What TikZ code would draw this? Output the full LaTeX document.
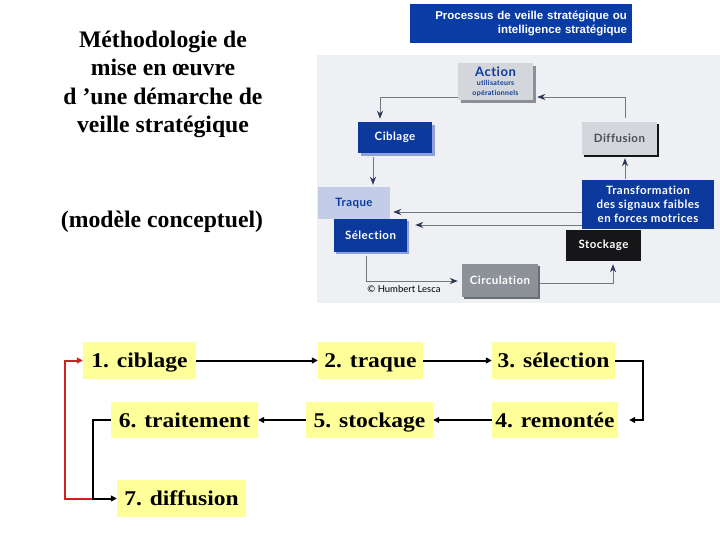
\documentclass[tikz,border=0pt]{standalone}
\usepackage{fontspec}
\setmainfont{Liberation Serif}
\newfontfamily\bottomfont[FakeStretch=1.12]{Liberation Serif}
\newfontfamily\picfont[LetterSpace=4,Ligatures=NoCommon]{Lato}
\newfontfamily\copyfont{Lato}
\newfontfamily\arialfont{Liberation Sans}
\usetikzlibrary{arrows.meta,calc}
\pgfdeclarelayer{panel}
\pgfdeclarelayer{shadow}
\pgfsetlayers{panel,shadow,main}
\definecolor{yellowbox}{RGB}{255,255,153}
\definecolor{picblue}{RGB}{12,58,156}
\definecolor{titleblue}{RGB}{10,60,165}
\definecolor{lightshadow}{RGB}{142,162,216}
\definecolor{traqueblue}{RGB}{195,205,232}
\definecolor{boxgray}{RGB}{211,214,218}
\definecolor{actshadow}{RGB}{140,144,150}
\definecolor{circgray}{RGB}{141,146,152}
\definecolor{circshadow}{RGB}{105,110,116}
\definecolor{panelbg}{RGB}{238,240,243}
\definecolor{linegray}{RGB}{115,120,128}
\definecolor{arrowdark}{RGB}{44,54,88}
\definecolor{difftext}{RGB}{74,77,85}
\definecolor{stockblack}{RGB}{22,22,24}
\definecolor{redline}{RGB}{204,34,34}
\begin{document}
\begin{tikzpicture}[x=1pt,y=-1pt,
  ybox/.style={fill=yellowbox, inner sep=0pt, text height=17pt, text depth=3pt,
    font=\bottomfont\bfseries\fontsize{21}{24}\selectfont, minimum height=37pt},
  barrow/.style={line width=2pt, -{Triangle[length=6pt,width=6pt]}},
  rarrow/.style={barrow, draw=redline, color=redline},
  pbox/.style={inner sep=0pt, font=\picfont\bfseries\fontsize{11.5}{14}\selectfont, align=center},
  pline/.style={draw=linegray, line width=0.9pt},
  parrow/.style={pline, -{Stealth[length=8pt,width=6pt,inset=2.5pt,color=arrowdark]}}
]
\useasboundingbox (0,0) rectangle (720,540);
\begin{pgfonlayer}{panel}
\fill[white] (0,0) rectangle (720,540);
\fill[panelbg] (317,55) rectangle (720,303);
\end{pgfonlayer}

% left title
\node[align=center, font=\bfseries\fontsize{23.7}{28.5}\selectfont, inner sep=0, anchor=north]
  (title) at (163,30.8) {Méthodologie de\\mise en œuvre\\d ’une démarche de\\veille stratégique};
\node[font=\bfseries\fontsize{23.7}{28}\selectfont, inner sep=0, anchor=base]
  (subtitle) at (162,228) {(modèle conceptuel)};

% top-right picture
\node[fill=titleblue, text=white, text width=212pt, align=right, minimum height=39pt,
  inner xsep=5pt, inner ysep=0pt, font=\arialfont\bfseries\fontsize{11.5}{14}\selectfont]
  (tb) at (521,23.5) {Processus de veille stratégique ou\\intelligence stratégique};

\node[pbox, font=\picfont\bfseries\fontsize{7}{9.5}\selectfont, fill=boxgray, text=picblue,
  minimum width=75pt, minimum height=37pt]
  (Action) at (495.5,81.5) {{\fontsize{13}{9.5}\selectfont Action}\\utilisateurs\\opérationnels};
\node[pbox, fill=picblue, text=white, minimum width=74pt, minimum height=31pt]
  (Ciblage) at (395,137.5) {Ciblage};
\node[pbox, fill=boxgray, text=difftext, minimum width=75pt, minimum height=33pt]
  (Diffusion) at (619.5,138.5) {Diffusion};
\node[pbox, fill=traqueblue, text=picblue, minimum width=72pt, minimum height=32pt]
  (Traque) at (354,203) {Traque};
\node[pbox, fill=picblue, text=white, minimum width=73pt, minimum height=33pt]
  (Selection) at (370.5,235.5) {Sélection};
\node[pbox, fill=stockblack, text=white, minimum width=75pt, minimum height=31pt]
  (Stockage) at (603.5,245.5) {Stockage};
\node[pbox, fill=picblue, text=white, minimum width=132pt, minimum height=49pt]
  (Transformation) at (648,204.5) {Transformation\\des signaux faibles\\en forces motrices};
\node[pbox, fill=circgray, text=white, minimum width=76pt, minimum height=33pt]
  (Circulation) at (500,280.5) {Circulation};
\node[font=\copyfont\fontsize{9.5}{11}\selectfont, inner sep=0] (copy) at (404,289) {© Humbert Lesca};

\begin{pgfonlayer}{shadow}
\fill[actshadow] ($(Action.north west)+(3,3)$) rectangle ($(Action.south east)+(3,3)$);
\fill[lightshadow] ($(Ciblage.north west)+(3,3)$) rectangle ($(Ciblage.south east)+(3,3)$);
\fill[stockblack] ($(Diffusion.north west)+(2,2)$) rectangle ($(Diffusion.south east)+(2,2)$);
\fill[lightshadow] ($(Selection.north west)+(2,2)$) rectangle ($(Selection.south east)+(2,2)$);
\fill[circshadow] ($(Circulation.north west)+(2,2)$) rectangle ($(Circulation.south east)+(2,2)$);
\end{pgfonlayer}

\draw[parrow] ($(Action.west)+(0,15.5)$) -| ($(Ciblage.north)+(-15,-3)$);
\draw[parrow] ($(Diffusion.north)+(5.5,-4)$) |- ($(Action.east)+(4,15.5)$);
\draw[parrow] ($(Ciblage.south)+(-22,4)$) -- ($(Traque.north)+(19,-2)$);
\draw[parrow] ($(Transformation.west)+(0,7.5)$) -- ($(Traque.east)+(3,9)$);
\draw[parrow] ($(Transformation.west)+(0,20.5)$) -- ($(Selection.east)+(8,-10.5)$);
\draw[parrow] ($(Selection.south)+(-4.5,4)$) |- ($(Circulation.west)+(-4,0.5)$);
\draw[parrow] ($(Circulation.east)+(2,2.5)$) -| ($(Stockage.south)+(9.5,3)$);
\draw[parrow] ($(Transformation.north)+(-23,-1)$) -- ($(Diffusion.south)+(5.5,3)$);

% bottom flowchart
\node[ybox, minimum width=113pt] (b1) at (139.5,360.5) {1. ciblage};
\node[ybox, minimum width=105pt] (b2) at (370.5,360.5) {2. traque};
\node[ybox, minimum width=123pt] (b3) at (553.5,360.5) {3. sélection};
\node[ybox, minimum width=126pt, minimum height=36pt] (b4) at (555,420) {4. remontée};
\node[ybox, minimum width=127pt, minimum height=36pt] (b5) at (369.5,420) {5. stockage};
\node[ybox, minimum width=147pt, minimum height=36pt] (b6) at (184.5,420) {6. traitement};
\node[ybox, minimum width=129pt] (b7) at (181.5,498.5) {7. diffusion};
\coordinate (jn) at ($(b7.west)+(-24,0)$);

\draw[barrow] (b1.east) -- (b2.west);
\draw[barrow] (b2.east) -- (b3.west);
\draw[barrow] (b3.east) -- ++(28,0) |- ($(b4.east)+(11,0)$);
\draw[barrow] (b4.west) -- (b5.east);
\draw[barrow] (b5.west) -- (b6.east);
\draw[rarrow] (jn) -- ++(-28,0) |- (b1.west);
\draw[barrow] (b6.west) -| (jn) -- (b7.west);
\end{tikzpicture}
\end{document}
